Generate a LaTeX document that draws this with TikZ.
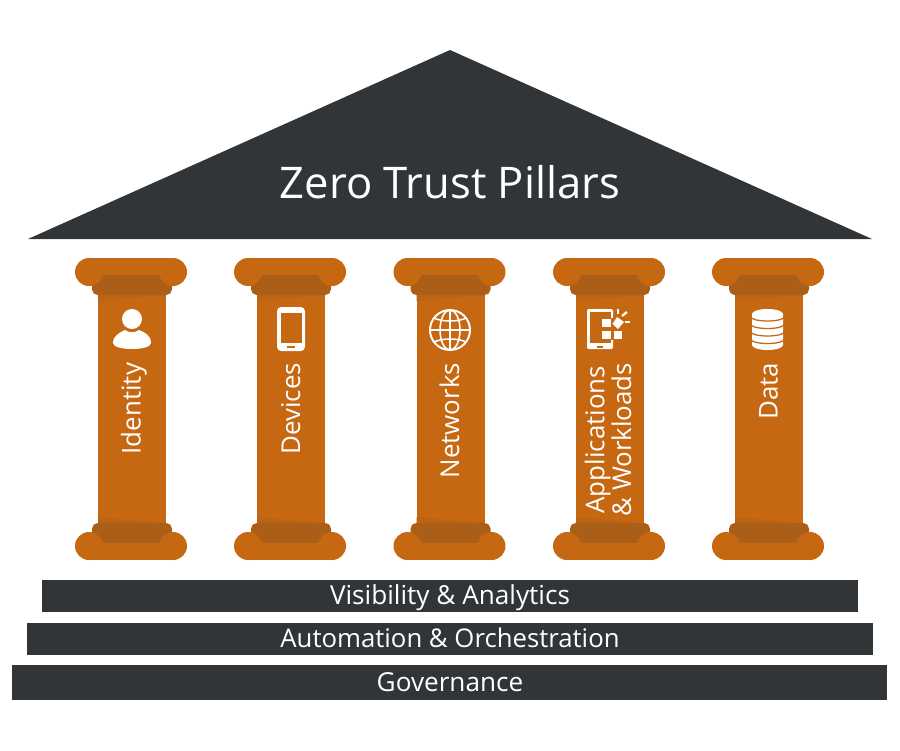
\documentclass[tikz,border=0pt]{standalone}
\usepackage{fontspec}
\setmainfont{Open Sans}
\definecolor{roofgray}{HTML}{323538}
\definecolor{pillarorange}{HTML}{C66812}
\definecolor{pillardark}{HTML}{AB5E18}
\definecolor{wedgeorange}{HTML}{BC6414}

\begin{document}
\begin{tikzpicture}[x=0.025cm,y=-0.025cm]
\tikzset{
  bartext/.style={text=white,font=\fontsize{18.6}{20}\selectfont,anchor=base},
  pillartext/.style={text=white,font=\fontsize{18.4}{19}\selectfont,rotate=90,anchor=base east,align=center},
}
\useasboundingbox (0,0) rectangle (900,750);

% roof
\fill[roofgray] (28,239) -- (450,50) -- (872,239) -- cycle;
\node[text=white,font=\fontsize{31}{33}\selectfont] (title) at (450,182) {Zero Trust Pillars};

% pillars
\foreach \px in {131,290,449.5,609,768}{
  \begin{scope}[shift={(\px,0)}]
  % shaft
  \fill[pillarorange] (-33,295) rectangle (35,523);
  \fill[wedgeorange] (-33,295) -- (35,295) -- (-33,301) -- cycle;
  \fill[wedgeorange] (-33,517) -- (35,523) -- (-33,523) -- cycle;
  % capital
  \fill[pillardark,rounded corners=4] (-39,275) -- (41,275) -- (41,295) -- (-39,295) -- cycle;
  \fill[pillarorange] (-42,258) rectangle (42,275);
  \fill[pillarorange] (-42,272) circle[radius=14];
  \fill[pillarorange] (42,272) circle[radius=14];
  % foot
  \fill[pillardark,rounded corners=4] (-39,543) -- (-39,523) -- (41,523) -- (41,543) -- cycle;
  \fill[pillarorange] (-42,543) rectangle (42,560);
  \fill[pillarorange] (-42,546) circle[radius=14];
  \fill[pillarorange] (42,546) circle[radius=14];
  \end{scope}
}

% labels
\node[pillartext] (identity) at (140.5,358) {Identity};
\node[pillartext] (devices) at (300,358) {Devices};
\node[pillartext] (networks) at (459,358) {Networks};
\node[pillartext,anchor=east] (apps) at (608,358) {Applications\\\& Workloads};
\node[pillartext] (data) at (777.5,358) {Data};

% person
\fill[white] (132,319) circle[radius=10];
\fill[white] (113,343) .. controls (113,335) and (121,332) .. (125,330) .. controls (129,333) and (135,333) .. (139,330) .. controls (144,332) and (151,335) .. (151,343) .. controls (151,351) and (113,351) .. (113,343) -- cycle;

% phone
\fill[white,rounded corners=3] (277,307) rectangle (305,351);
\fill[pillarorange] (281,313) rectangle (302,343);
\fill[pillarorange] (287,346) rectangle (295,348);

% globe
\draw[white,line width=1.4pt] (450,330) circle[radius=20];
\draw[white,line width=1.1pt] (450,330) ellipse[x radius=10,y radius=20];
\draw[white,line width=1.1pt] (450,310) -- (450,350);
\draw[white,line width=1.1pt] (430,330) -- (470,330);
\draw[white,line width=1.1pt] (434,318) .. controls (442,322) and (458,322) .. (466,318);
\draw[white,line width=1.1pt] (434,342) .. controls (442,338) and (458,338) .. (466,342);

% tablet
\fill[white,rounded corners=1] (587,309) rectangle (613,349);
\fill[pillarorange] (590,312) rectangle (611,343);
\fill[pillarorange] (611,318) rectangle (614,340);
\fill[pillarorange] (597,346) rectangle (603,347.5);
\fill[white] (602,319) rectangle (611,327);
\fill[white] (602,331) rectangle (611,339);
\fill[white] (614,331) rectangle (622,339);
\fill[white] (617,317) -- (624,322) -- (618,329) -- (612.5,324) -- cycle;
\draw[white,line width=1.6pt] (618,309) -- (618,314);
\draw[white,line width=1.6pt] (622,316) -- (627,312);
\draw[white,line width=1.6pt] (625,322) -- (630,322);

% database
\fill[white] (752,314) arc[start angle=180,end angle=360,x radius=15.5,y radius=5] -- (783,345) arc[start angle=0,end angle=180,x radius=15.5,y radius=5] -- cycle;
\foreach \dy in {317,324.5,332,339.5}{
  \draw[pillarorange,line width=0.9pt] (751,\dy) arc[start angle=180,end angle=0,x radius=16.5,y radius=4];
}

% layers
\fill[roofgray] (42,580) rectangle (858,612);
\fill[roofgray] (27,623) rectangle (873,655);
\fill[roofgray] (12,665) rectangle (887,700);
\node[bartext] (visibility) at (450,604) {Visibility \& Analytics};
\node[bartext,font=\fontsize{18.3}{20}\selectfont] (automation) at (450,647) {Automation \& Orchestration};
\node[bartext] (governance) at (450,691) {Governance};
\end{tikzpicture}
\end{document}
